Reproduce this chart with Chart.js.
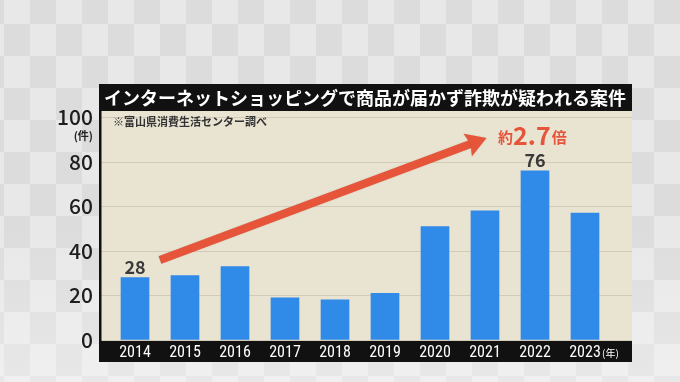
<!DOCTYPE html>
<html><head><meta charset="utf-8">
<style>
html,body{margin:0;padding:0;}
body{width:680px;height:382px;overflow:hidden;
background-color:#e6e6e6;
background-image:linear-gradient(to bottom, rgba(255,255,255,0) 60%, rgba(255,255,255,0.35) 100%), repeating-conic-gradient(#dcdcdc 0 25%, #e8e8e8 0 50%);
background-size:680px 382px, 52px 64px;background-position:0 0, 4px -8px;}
#wrap{position:relative;width:680px;height:382px;}
</style>
<script src="https://cdn.jsdelivr.net/npm/chart.js@4"></script>
</head><body><div id="wrap"><canvas id="c" width="680" height="382"></canvas></div>
<script>
const years = [2014, 2015, 2016, 2017, 2018, 2019, 2020, 2021, 2022, 2023];
const cases = [28, 29, 33, 19, 18, 21, 51, 58, 76, 57];
const yTicks = [0, 20, 40, 60, 80, 100];
const labeledYears = [2014, 2022];
const titleText = 'インターネットショッピングで商品が届かず詐欺が疑われる案件';
const sourceText = '※富山県消費生活センター調べ';
const yUnit = '(件)';
const xUnit = '(年)';
const arrowFrom = [2014.5, 36];
const arrowTo = [2021.03, 90.8];
const growthText = ['約', '2.7', '倍'];

const JP = '"Noto Sans CJK JP", "Noto Sans", sans-serif';
const RED = '#e6553a';

const deco = {
  id: 'deco',
  beforeDraw(chart) {
    const {ctx, chartArea: a} = chart;
    ctx.save();
    ctx.fillStyle = '#e9e3d2';
    ctx.fillRect(a.left, 111, a.right - a.left, a.bottom + 1 - 111);
    ctx.fillStyle = '#111111';
    ctx.fillRect(a.left - 1, a.bottom + 1, a.right - a.left + 1, 21);
    ctx.fillRect(a.left - 1, 84, a.right - a.left + 1, 27);
    ctx.restore();
  },
  afterDatasetsDraw(chart) {
    const {ctx} = chart;
    const xs = chart.scales.x, ys = chart.scales.y;
    const meta = chart.getDatasetMeta(0);
    ctx.save();
    // arrow
    const x0 = xs.getPixelForValue(arrowFrom[0]), y0 = ys.getPixelForValue(arrowFrom[1]);
    const x1 = xs.getPixelForValue(arrowTo[0]), y1 = ys.getPixelForValue(arrowTo[1]);
    const len = Math.hypot(x1 - x0, y1 - y0);
    const ux = (x1 - x0) / len, uy = (y1 - y0) / len;
    const nx = -uy, ny = ux;
    const hl = 17, hw = 12;
    ctx.strokeStyle = RED; ctx.lineWidth = 8; ctx.lineCap = 'butt';
    ctx.shadowColor = 'rgba(120,40,20,0.35)'; ctx.shadowBlur = 1;
    ctx.beginPath();
    ctx.moveTo(x0, y0);
    ctx.lineTo(x1 - ux * (hl - 2), y1 - uy * (hl - 2));
    ctx.stroke();
    ctx.fillStyle = RED;
    ctx.beginPath();
    ctx.moveTo(x1, y1);
    ctx.lineTo(x1 - ux * (hl + 3) + nx * hw, y1 - uy * (hl + 3) + ny * hw);
    ctx.lineTo(x1 - ux * hl, y1 - uy * hl);
    ctx.lineTo(x1 - ux * (hl + 3) - nx * hw, y1 - uy * (hl + 3) - ny * hw);
    ctx.closePath();
    ctx.fill();
    ctx.shadowBlur = 0; ctx.shadowColor = 'transparent';
    // data labels
    ctx.fillStyle = '#3a3a3a';
    ctx.font = 'bold 18px ' + JP;
    ctx.textAlign = 'center';
    ctx.textBaseline = 'alphabetic';
    years.forEach((yr, i) => {
      if (labeledYears.includes(yr)) {
        const el = meta.data[i];
        ctx.fillText(String(cases[i]), el.x, el.y - 4);
      }
    });
    // growth text
    ctx.fillStyle = RED;
    ctx.textAlign = 'left';
    let gx = 498;
    const gy = 143;
    ctx.font = 'bold 15px ' + JP;
    ctx.fillText(growthText[0], gx, gy); gx += ctx.measureText(growthText[0]).width;
    ctx.font = 'bold 25px ' + JP;
    ctx.fillText(growthText[1], gx, gy + 2); gx += ctx.measureText(growthText[1]).width + 1;
    ctx.font = 'bold 15px ' + JP;
    ctx.fillText(growthText[2], gx, gy);
    // source
    ctx.fillStyle = '#333333';
    ctx.font = 'bold 11px ' + JP;
    ctx.textBaseline = 'middle';
    ctx.fillText(sourceText, 113, 122);
    ctx.restore();
  },
  afterDraw(chart) {
    const {ctx, chartArea: a} = chart;
    const xs = chart.scales.x;
    ctx.save();
    ctx.fillStyle = '#111111';
    ctx.fillRect(a.left - 1, 111, 2.5, a.bottom + 1 - 111);
    ctx.fillStyle = '#ffffff';
    ctx.font = 'bold 18px ' + JP;
    ctx.textAlign = 'center';
    ctx.textBaseline = 'middle';
    ctx.fillText(titleText, (a.left + a.right) / 2 - 1, 98);
    ctx.fillStyle = '#222222';
    ctx.font = 'bold 11px ' + JP;
    ctx.textAlign = 'right';
    ctx.fillText(yUnit, 93, 136);
    ctx.fillStyle = '#ffffff';
    ctx.font = '10px ' + JP;
    ctx.textAlign = 'left';
    ctx.fillText(xUnit, xs.getPixelForValue(years[years.length - 1]) + 17, 353);
    ctx.restore();
  }
};

new Chart(document.getElementById('c'), {
  type: 'bar',
  data: {
    datasets: [{
      data: years.map((x, i) => ({x: x, y: cases[i]})),
      backgroundColor: '#2f8ae8',
      borderWidth: 0,
      barThickness: 28
    }]
  },
  options: {
    responsive: false,
    animation: false,
    layout: {padding: {top: 117.5, right: 48, bottom: 0, left: 0}},
    plugins: {legend: {display: false}, tooltip: {enabled: false}},
    scales: {
      x: {
        type: 'linear',
        min: 2013.3,
        max: 2023.94,
        offset: false,
        grid: {display: false, offset: false, drawTicks: false},
        border: {display: false},
        afterFit: s => { s.height = 42; },
        afterBuildTicks: s => { s.ticks = years.map(v => ({value: v})); },
        ticks: {
          autoSkip: false,
          maxRotation: 0,
          padding: 3,
          color: '#ffffff',
          font: {family: '"Liberation Sans Narrow", "Roboto Condensed", Roboto, sans-serif', size: 16},
          callback: v => String(v)
        }
      },
      y: {
        min: 0,
        max: 100,
        afterFit: s => { s.width = 100; },
        afterBuildTicks: s => { s.ticks = yTicks.map(v => ({value: v})); },
        grid: {color: '#d3cbb7', lineWidth: 1, drawTicks: false},
        border: {display: false},
        ticks: {
          padding: 7,
          color: '#1e1e1e',
          font: {family: JP, size: 21, weight: '500'},
          callback: v => String(v)
        }
      }
    }
  },
  plugins: [deco]
});
</script>
</body></html>
